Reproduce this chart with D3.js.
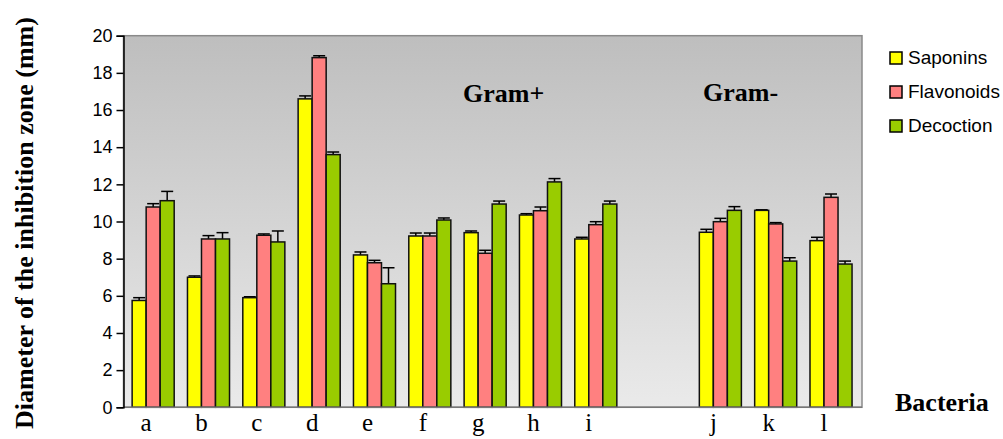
<!DOCTYPE html>
<html>
<head>
<meta charset="utf-8">
<script src="https://cdn.jsdelivr.net/npm/d3@7"></script>
<style>
  body { margin: 0; background: #fff; }
  svg { display: block; }
</style>
</head>
<body>
<div id="chart"></div>
<script>
var chartDiv = document.querySelector("#chart");

var width = 1003;
var height = 439;

// plot area (don't call these top/left - window.top is read only)
var plotLeft = 123.5, plotRight = 862, plotTop = 35.7, plotBottom = 407.3;

// data
var gramPos = ["a", "b", "c", "d", "e", "f", "g", "h", "i"];
var gramNeg = ["j", "k", "l"];
var series = ["Saponins", "Flavonoids", "Decoction"];
var colors = ["#FFFF00", "#FF8080", "#99CC00"];

var saponins      = [5.75, 7.0, 5.9, 16.6, 8.2, 9.22, 9.4, 10.35, 9.06, 9.42, 10.6, 8.97];
var saponinsErr   = [0.15, 0.07, 0.05, 0.16, 0.16, 0.16, 0.09, 0.07, 0.09, 0.16, 0.03, 0.18];
var flavonoids    = [10.78, 9.06, 9.26, 18.82, 7.78, 9.22, 8.29, 10.58, 9.83, 9.99, 9.87, 11.3];
var flavonoidsErr = [0.18, 0.18, 0.07, 0.1, 0.13, 0.16, 0.16, 0.2, 0.16, 0.18, 0.07, 0.18];
var decoction     = [11.12, 9.06, 8.9, 13.6, 6.65, 10.08, 10.94, 12.13, 10.94, 10.6, 7.87, 7.71];
var decoctionErr  = [0.5, 0.34, 0.59, 0.14, 0.86, 0.11, 0.16, 0.18, 0.16, 0.2, 0.18, 0.16];

var yTicks = [0, 2, 4, 6, 8, 10, 12, 14, 16, 18, 20];

var values = [saponins, flavonoids, decoction];
var errors = [saponinsErr, flavonoidsErr, decoctionErr];
var categories = gramPos.concat(gramNeg);

var svg = d3.select(chartDiv)
  .append("svg")
    .attr("width", width)
    .attr("height", height);

var defs = svg.append("defs");
var grad = defs.append("linearGradient")
    .attr("id", "bg")
    .attr("x1", 0).attr("y1", 0).attr("x2", 0).attr("y2", 1);
grad.append("stop").attr("offset", "0%").attr("stop-color", "#BEBEBE");
grad.append("stop").attr("offset", "100%").attr("stop-color", "#EAEAEA");

var y = d3.scaleLinear().domain([0, 20]).range([plotBottom, plotTop]);

// two groups of bacteria with a gap between them
var xPos = d3.scaleBand().domain(gramPos)
    .range([125.5, 125.5 + 9 * 55.33])
    .paddingInner(0.24).paddingOuter(0.12);
var xNeg = d3.scaleBand().domain(gramNeg)
    .range([692.7, 692.7 + 3 * 55.33])
    .paddingInner(0.24).paddingOuter(0.12);

function xGroup(c) {
  return gramPos.indexOf(c) >= 0 ? xPos(c) : xNeg(c);
}

var xSub = d3.scaleBand().domain(series).range([0, xPos.bandwidth()]);

// background
svg.append("rect")
    .attr("x", plotLeft).attr("y", plotTop)
    .attr("width", plotRight - plotLeft).attr("height", plotBottom - plotTop)
    .attr("fill", "url(#bg)")
    .attr("stroke", "#8a8a8a")
    .attr("stroke-width", 1.5);

// rows of bar data
var rows = [];
categories.forEach(function(c, i) {
  series.forEach(function(s, k) {
    rows.push({cat: c, ser: s, k: k, v: values[k][i], e: errors[k][i]});
  });
});

var capW = 12;
var g = svg.append("g");

function midX(d) { return xGroup(d.cat) + xSub(d.ser) + xSub.bandwidth() / 2; }

// error bars (under the bars, so only the upper half shows)
var err = g.selectAll(".err").data(rows).enter().append("g")
    .attr("stroke", "#000").attr("stroke-width", 1.5);
err.append("line")
    .attr("x1", midX)
    .attr("x2", midX)
    .attr("y1", function(d){ return y(d.v - d.e); })
    .attr("y2", function(d){ return y(d.v + d.e); });
err.append("line")
    .attr("x1", function(d){ return midX(d) - capW / 2; })
    .attr("x2", function(d){ return midX(d) + capW / 2; })
    .attr("y1", function(d){ return y(d.v + d.e); })
    .attr("y2", function(d){ return y(d.v + d.e); });

g.selectAll(".bar").data(rows).enter().append("rect")
    .attr("x", function(d){ return xGroup(d.cat) + xSub(d.ser); })
    .attr("y", function(d){ return y(d.v); })
    .attr("width", xSub.bandwidth())
    .attr("height", function(d){ return y(0) - y(d.v); })
    .attr("fill", function(d){ return colors[d.k]; })
    .attr("stroke", "#111")
    .attr("stroke-width", 1.5);

// baseline
svg.append("line")
    .attr("x1", plotLeft).attr("x2", plotRight)
    .attr("y1", y(0)).attr("y2", y(0))
    .attr("stroke", "#777").attr("stroke-width", 1.5);

// y axis
var yAxis = svg.append("g")
    .attr("transform", "translate(" + plotLeft + ",0)")
    .call(d3.axisLeft(y).tickValues(yTicks).tickSize(7).tickPadding(4));
yAxis.select(".domain").attr("stroke", "#000").attr("stroke-width", 1.5);
yAxis.selectAll(".tick line").attr("stroke", "#000").attr("stroke-width", 1.5);
yAxis.selectAll(".tick text")
    .attr("font-family", "Liberation Sans, Arial, sans-serif")
    .attr("font-size", 18)
    .attr("fill", "#000");

// category labels
var serif = "Liberation Serif, Times New Roman, serif";
svg.selectAll(".cat").data(categories).enter().append("text")
    .attr("x", function(c){ return xGroup(c) + xPos.bandwidth() / 2 - 7; })
    .attr("y", 431)
    .attr("text-anchor", "middle")
    .attr("font-family", serif)
    .attr("font-size", 25)
    .text(function(c){ return c; });

// group labels
svg.append("text").attr("x", 463).attr("y", 102)
    .attr("font-family", serif).attr("font-weight", "bold").attr("font-size", 26)
    .text("Gram+");
svg.append("text").attr("x", 703).attr("y", 101)
    .attr("font-family", serif).attr("font-weight", "bold").attr("font-size", 26)
    .text("Gram-");
svg.append("text").attr("x", 895).attr("y", 411)
    .attr("font-family", serif).attr("font-weight", "bold").attr("font-size", 26)
    .text("Bacteria");

// y title
svg.append("text")
    .attr("transform", "translate(33,223) rotate(-90)")
    .attr("text-anchor", "middle")
    .attr("font-family", serif).attr("font-weight", "bold").attr("font-size", 26)
    .text("Diameter of the inhibition zone (mm)");

// legend
var legend = svg.selectAll(".leg").data(series).enter().append("g")
    .attr("transform", function(d, i){ return "translate(890," + (52 + i * 34) + ")"; });
legend.append("rect")
    .attr("width", 12).attr("height", 12)
    .attr("fill", function(d, i){ return colors[i]; })
    .attr("stroke", "#000").attr("stroke-width", 1.5);
legend.append("text")
    .attr("x", 18).attr("y", 12)
    .attr("font-family", "Liberation Sans, Arial, sans-serif")
    .attr("font-size", 19)
    .text(function(d){ return d; });
</script>
</body>
</html>
